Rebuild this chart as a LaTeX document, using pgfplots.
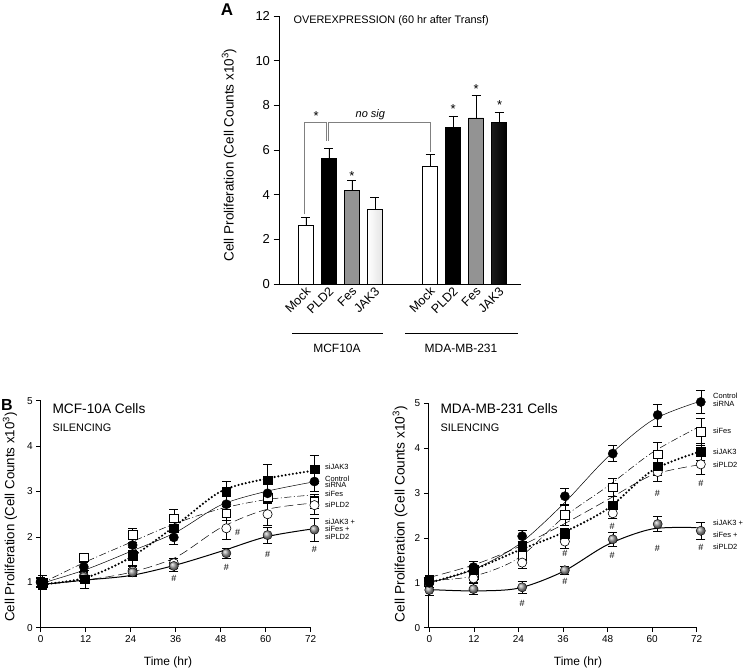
\documentclass[border=0pt]{standalone}
\usepackage{fontspec}
\setmainfont{Liberation Sans}
\usepackage{pgfplots}
\pgfplotsset{compat=1.18}
\newcommand{\fs}[1]{\fontsize{#1}{#1}\selectfont}
\pgfplotsset{
  ebB/.style={/pgfplots/error bars/y dir=both, /pgfplots/error bars/y explicit,
    /pgfplots/error bars/error bar style={black, line width=0.5pt},
    /pgfplots/error bars/error mark options={rotate=90, mark size=4.5pt, black, line width=0.5pt}},
  ebA/.style={/pgfplots/error bars/y dir=plus, /pgfplots/error bars/y explicit,
    /pgfplots/error bars/error bar style={black, line width=0.6pt},
    /pgfplots/error bars/error mark options={rotate=90, mark size=4.5pt, black, line width=0.6pt}},
  myB/.style={scale only axis, axis lines=left, axis line style={-, black, line width=0.6pt},
    xmax=72, ymin=0, ymax=5, xtick={0,12,...,72}, ytick={0,1,...,5},
    tick align=outside, major tick length=4.5pt, tick style={black, line width=0.6pt},
    ticklabel style={font=\fs{10}}, /pgf/number format/assume math mode=true, clip=false},
  ctrl/.style={only marks, mark=*, mark size=4.6pt, mark options={fill=black, draw=black}, ebB},
  jak/.style={only marks, mark=square*, mark size=4.3pt, mark options={fill=black, draw=black}, ebB},
  fes/.style={only marks, mark=square*, mark size=4.3pt, mark options={fill=white, draw=black, line width=0.6pt}, ebB},
  pld/.style={only marks, mark=*, mark size=4.6pt, mark options={fill=white, draw=black, line width=0.6pt}, ebB},
  combo/.style={only marks, mark=ball, mark size=4.6pt, mark options={ball color=gray!80}, ebB},
  lctrl/.style={black, line width=0.5pt, smooth, no marks},
  lfes/.style={black, line width=0.5pt, smooth, no marks, dash pattern=on 7pt off 2.5pt on 1pt off 2.5pt},
  lpld/.style={black, line width=0.5pt, smooth, no marks, dash pattern=on 9pt off 4pt},
  lcombo/.style={black, line width=1pt, smooth, no marks},
  ljak/.style={black, line width=2.4pt, smooth, no marks, line cap=round, dash pattern=on 0pt off 3.7pt},
}
\begin{document}
\begin{tikzpicture}
\path[use as bounding box] (0pt,0pt) rectangle (745pt,-670pt);

% ================= Panel A =================
\begin{axis}[at={(279pt,-284pt)}, anchor=south west, scale only axis,
  width=242pt, height=268pt, xmin=-1.17, xmax=9.35, ymin=0, ymax=12,
  axis lines=left, axis line style={-, black, line width=0.7pt},
  ytick={0,2,...,12}, xtick={0,1,2,3,5.4,6.4,7.4,8.4},
  xticklabels={Mock,PLD2,Fes,JAK3,Mock,PLD2,Fes,JAK3},
  x tick style={draw=none}, y tick style={black, line width=0.7pt},
  tick align=outside, major tick length=5.5pt,
  yticklabel style={font=\fs{13}},
  xticklabel style={font=\fs{12.5}, rotate=45, anchor=east, xshift=3pt, yshift=-1.5pt, inner sep=1pt},
  /pgf/number format/assume math mode=true, clip=false]
\addplot[ybar, bar width=15pt, bar shift=0pt, draw=black, line width=0.5pt, fill=white, ebA]
  coordinates {(0,2.62) +- (0,0.37) (5.4,5.29) +- (0,0.52)};
\addplot[ybar, bar width=15pt, bar shift=0pt, draw=black, line width=0.5pt, fill=black, ebA]
  coordinates {(1,5.61) +- (0,0.46) (6.4,7.03) +- (0,0.50)};
\addplot[ybar, bar width=15pt, bar shift=0pt, draw=black, line width=0.5pt, fill=gray!85, ebA]
  coordinates {(2,4.18) +- (0,0.46) (7.4,7.44) +- (0,0.99)};
\addplot[ybar, bar width=15pt, bar shift=0pt, draw=black, line width=0.5pt, left color=white, right color=black, ebA]
  coordinates {(3,3.35) +- (0,0.52) (8.4,7.24) +- (0,0.46)};
% brackets
\draw[gray, line width=0.7pt] (axis cs:-0.07,3.12) -- (axis cs:-0.07,7.22) -- (axis cs:0.88,7.22) -- (axis cs:0.88,6.42);
\draw[gray, line width=0.7pt] (axis cs:0.97,6.42) -- (axis cs:0.97,7.22) -- (axis cs:5.42,7.22) -- (axis cs:5.42,5.93);
\node[font=\fs{13}] at (axis cs:0.45,7.5) {*};
\node[font=\fs{11}\itshape] at (axis cs:2.8,7.6) {no sig};
\node[font=\fs{13}] at (axis cs:2,4.85) {*};
\node[font=\fs{13}] at (axis cs:6.4,7.85) {*};
\node[font=\fs{13}] at (axis cs:7.4,8.75) {*};
\node[font=\fs{13}] at (axis cs:8.42,8.0) {*};
\end{axis}
\node[font=\fs{17}\bfseries] at (227pt,-10pt) {A};
\node[font=\fs{10.9}, anchor=west] at (290pt,-21pt) {OVEREXPRESSION (60 hr after Transf)};
\node[font=\fs{13.5}, rotate=90] at (229pt,-155pt) {Cell Proliferation (Cell Counts x10\textsuperscript{3})};
\draw[line width=0.7pt] (292pt,-333pt) -- (383pt,-333pt);
\draw[line width=0.7pt] (405pt,-333pt) -- (518pt,-333pt);
\node[font=\fs{12}] at (337pt,-348pt) {MCF10A};
\node[font=\fs{12}] at (461pt,-348pt) {MDA-MB-231};

% ================= Panel B left =================
\begin{axis}[myB, at={(40.7pt,-627.7pt)}, anchor=south west, width=270pt, height=227pt, xmin=0]
\addplot[lctrl] coordinates {(0,0.97)(12,1.28)(24,1.68)(36,2.1)(48,2.7)(60,3.0)(72,3.2)};
\addplot[lfes] coordinates {(0,0.97)(12,1.45)(24,1.88)(36,2.3)(48,2.62)(60,2.82)(72,2.92)};
\addplot[lpld] coordinates {(0,0.95)(12,1.05)(24,1.22)(36,1.55)(48,2.2)(60,2.6)(72,2.74)};
\addplot[lcombo] coordinates {(0,0.95)(12,1.05)(24,1.15)(36,1.38)(48,1.68)(60,2.0)(72,2.17)};
\addplot[ljak] coordinates {(0,0.95)(12,1.1)(24,1.55)(36,2.25)(48,3.0)(60,3.28)(72,3.45)};
\addplot[fes] coordinates {(0.5,0.98) +- (0,0.1) (11.5,1.55) +- (0,0.1) (24.5,2.04) +- (0,0.15) (35.5,2.41) +- (0,0.2) (49.5,2.52) +- (0,0.15) (60.5,2.87) +- (0,0.1) (73,2.78) +- (0,0.15)};
\addplot[pld] coordinates {(0,1.0) +- (0,0.1) (11.5,1.14) +- (0,0.1) (24.5,1.25) +- (0,0.1) (35.5,1.42) +- (0,0.1) (49.5,2.19) +- (0,0.25) (60.5,2.50) +- (0,0.25) (73,2.70) +- (0,0.2)};
\addplot[combo] coordinates {(0,1.0) +- (0,0.1) (11.5,1.12) +- (0,0.1) (24.5,1.22) +- (0,0.08) (35.5,1.36) +- (0,0.12) (49.5,1.64) +- (0,0.1) (60.5,2.04) +- (0,0.18) (73,2.16) +- (0,0.25)};
\addplot[ctrl] coordinates {(0,1.02) +- (0,0.1) (11.5,1.34) +- (0,0.1) (24.5,1.82) +- (0,0.12) (35.5,1.99) +- (0,0.15) (49.5,2.72) +- (0,0.2) (60.5,2.96) +- (0,0.2) (73,3.22) +- (0,0.22)};
\addplot[jak] coordinates {(0.5,1.0) +- (0,0.15) (11.8,1.07) +- (0,0.2) (24.5,1.58) +- (0,0.2) (35.5,2.19) +- (0,0.2) (49.5,3.0) +- (0,0.23) (60.5,3.25) +- (0,0.35) (73,3.49) +- (0,0.3)};
\node[font=\fs{9}] at (axis cs:35.5,1.08) {\#};
\node[font=\fs{9}] at (axis cs:49.5,1.32) {\#};
\node[font=\fs{9}] at (axis cs:60.5,1.62) {\#};
\node[font=\fs{9}] at (axis cs:73,1.72) {\#};
\node[font=\fs{9}] at (axis cs:52.5,2.09) {\#};
\node[font=\fs{7.5}, anchor=west, inner sep=0pt] at (axis cs:75.8,3.55) {siJAK3};
\node[font=\fs{7.5}, anchor=west, inner sep=0pt] at (axis cs:75.8,3.28) {Control};
\node[font=\fs{7.5}, anchor=west, inner sep=0pt] at (axis cs:75.8,3.15) {siRNA};
\node[font=\fs{7.5}, anchor=west, inner sep=0pt] at (axis cs:75.8,2.94) {siFes};
\node[font=\fs{7.5}, anchor=west, inner sep=0pt] at (axis cs:75.8,2.70) {siPLD2};
\node[font=\fs{7.5}, anchor=west, inner sep=0pt] at (axis cs:75.8,2.33) {siJAK3 +};
\node[font=\fs{7.5}, anchor=west, inner sep=0pt] at (axis cs:75.8,2.17) {siFes +};
\node[font=\fs{7.5}, anchor=west, inner sep=0pt] at (axis cs:75.8,2.00) {siPLD2};
\end{axis}
\node[font=\fs{16}\bfseries] at (7pt,-405pt) {B};
\node[font=\fs{13.7}, anchor=west] at (49pt,-409pt) {MCF-10A Cells};
\node[font=\fs{10.9}, anchor=west] at (49pt,-428pt) {SILENCING};
\node[font=\fs{13.3}, rotate=90] at (10pt,-517pt) {Cell Proliferation (Cell Counts x10\textsuperscript{3})};
\node[font=\fs{12}] at (168pt,-662pt) {Time (hr)};

% ================= Panel B right =================
\begin{axis}[myB, at={(428.3pt,-627.7pt)}, anchor=south west, width=268.4pt, height=224.4pt, xmin=-0.27]
\addplot[lctrl] coordinates {(0,1.0)(12,1.3)(24,1.85)(36,2.75)(48,3.8)(60,4.62)(72,5.02)};
\addplot[lfes] coordinates {(0,1.05)(12,1.15)(24,1.55)(36,2.45)(48,3.15)(60,3.9)(72,4.45)};
\addplot[lpld] coordinates {(0,1.12)(12,1.4)(24,1.8)(36,2.3)(48,2.85)(60,3.4)(72,3.62)};
\addplot[lcombo] coordinates {(0,0.85)(12,0.82)(24,0.88)(36,1.25)(48,1.85)(60,2.2)(72,2.23)};
\addplot[ljak] coordinates {(0,1.0)(12,1.3)(24,1.72)(36,2.12)(48,2.65)(60,3.5)(72,3.9)};
\addplot[fes] coordinates {(-0.3,1.02) +- (0,0.1) (11.9,1.17) +- (0,0.12) (25,1.62) +- (0,0.12) (36.5,2.51) +- (0,0.22) (49.4,3.13) +- (0,0.2) (61.5,3.86) +- (0,0.27) (73.1,4.37) +- (0,0.3)};
\addplot[pld] coordinates {(0,1.0) +- (0,0.1) (11.9,1.10) +- (0,0.08) (25,1.45) +- (0,0.12) (36.5,1.92) +- (0,0.15) (49.4,2.55) +- (0,0.12) (61.5,3.47) +- (0,0.2) (73.1,3.64) +- (0,0.22)};
\addplot[combo] coordinates {(0,0.84) +- (0,0.12) (11.9,0.86) +- (0,0.12) (25,0.90) +- (0,0.14) (36.5,1.28) +- (0,0.1) (49.4,1.97) +- (0,0.15) (61.5,2.31) +- (0,0.17) (73.1,2.16) +- (0,0.2)};
\addplot[ctrl] coordinates {(0,1.0) +- (0,0.1) (11.9,1.35) +- (0,0.12) (25,2.04) +- (0,0.13) (36.5,2.93) +- (0,0.17) (49.4,3.88) +- (0,0.18) (61.5,4.74) +- (0,0.25) (73.1,5.03) +- (0,0.25)};
\addplot[jak] coordinates {(0,1.08) +- (0,0.08) (11.9,1.29) +- (0,0.1) (25,1.80) +- (0,0.12) (36.5,2.10) +- (0,0.12) (49.4,2.73) +- (0,0.2) (61.5,3.60) +- (0,0.2) (73.1,3.92) +- (0,0.18)};
\node[font=\fs{9}] at (axis cs:25,0.54) {\#};
\node[font=\fs{9}] at (axis cs:36.5,1.66) {\#};
\node[font=\fs{9}] at (axis cs:36.5,1.03) {\#};
\node[font=\fs{9}] at (axis cs:49.2,2.25) {\#};
\node[font=\fs{9}] at (axis cs:49.2,1.62) {\#};
\node[font=\fs{9}] at (axis cs:61.4,2.99) {\#};
\node[font=\fs{9}] at (axis cs:61.4,1.77) {\#};
\node[font=\fs{9}] at (axis cs:73.1,3.22) {\#};
\node[font=\fs{9}] at (axis cs:73.1,1.80) {\#};
\node[font=\fs{7.5}, anchor=west, inner sep=0pt] at (axis cs:76.4,5.16) {Control};
\node[font=\fs{7.5}, anchor=west, inner sep=0pt] at (axis cs:76.4,4.98) {siRNA};
\node[font=\fs{7.5}, anchor=west, inner sep=0pt] at (axis cs:76.4,4.38) {siFes};
\node[font=\fs{7.5}, anchor=west, inner sep=0pt] at (axis cs:76.4,3.91) {siJAK3};
\node[font=\fs{7.5}, anchor=west, inner sep=0pt] at (axis cs:76.4,3.64) {siPLD2};
\node[font=\fs{7.5}, anchor=west, inner sep=0pt] at (axis cs:76.4,2.33) {siJAK3 +};
\node[font=\fs{7.5}, anchor=west, inner sep=0pt] at (axis cs:76.4,2.06) {siFes +};
\node[font=\fs{7.5}, anchor=west, inner sep=0pt] at (axis cs:76.4,1.80) {siPLD2};
\end{axis}
\node[font=\fs{13.7}, anchor=west] at (437pt,-409pt) {MDA-MB-231 Cells};
\node[font=\fs{10.9}, anchor=west] at (437pt,-428pt) {SILENCING};
\node[font=\fs{13.7}, rotate=90] at (400pt,-514pt) {Cell Proliferation (Cell Counts x10\textsuperscript{3})};
\node[font=\fs{12}] at (578pt,-662pt) {Time (hr)};
\end{tikzpicture}
\end{document}
